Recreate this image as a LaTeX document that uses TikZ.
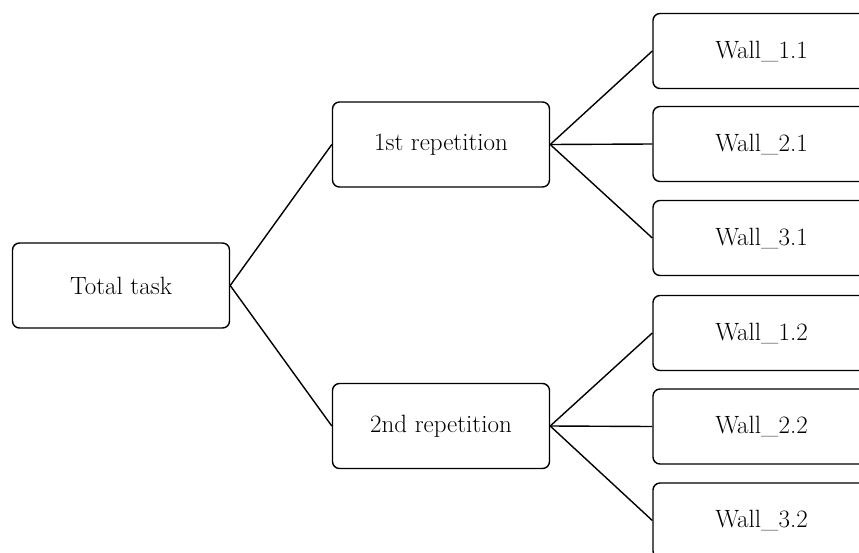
\documentclass[tikz,border=0pt]{standalone}
\begin{document}
\begin{tikzpicture}[x=1pt,y=-1pt,
  box/.style={draw, line width=1.4pt, rounded corners=7pt, minimum width=217pt, inner sep=0pt, font=\fontsize{25}{29}\selectfont},
  bigbox/.style={box, minimum height=85pt},
  wallbox/.style={box, minimum height=75pt},
  link/.style={line width=1.4pt}]
\useasboundingbox (0,0) rectangle (859,552);
\clip (0,0) rectangle (859,552);
\node[bigbox] (total) at (121,285.5) {Total task};
\node[bigbox] (r1) at (441,144.5) {1st repetition};
\node[bigbox] (r2) at (441,426) {2nd repetition};
\node[wallbox] (w11) at (761.5,51) {Wall\_1.1};
\node[wallbox] (w21) at (761.5,144) {Wall\_2.1};
\node[wallbox] (w31) at (761.5,238) {Wall\_3.1};
\node[wallbox] (w12) at (761.5,333) {Wall\_1.2};
\node[wallbox] (w22) at (761.5,426.5) {Wall\_2.2};
\node[wallbox] (w32) at (761.5,520.5) {Wall\_3.2};
\draw[link] (total.east) -- (r1.west);
\draw[link] (total.east) -- (r2.west);
\foreach \w in {w11,w21,w31} \draw[link] (r1.east) -- (\w.west);
\foreach \w in {w12,w22,w32} \draw[link] (r2.east) -- (\w.west);
\end{tikzpicture}
\end{document}
